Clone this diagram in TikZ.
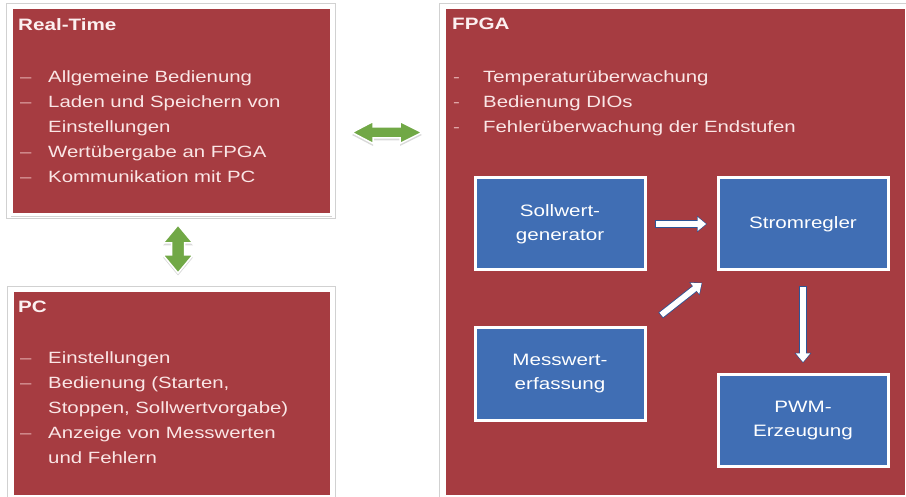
\documentclass[tikz,border=0pt]{standalone}
\usepackage{fontspec}
\setmainfont{Liberation Sans}[FakeStretch=1.25]
\usetikzlibrary{arrows.meta,shadows,calc}
\definecolor{boxred}{RGB}{166,60,65}
\definecolor{boxblue}{RGB}{64,110,180}
\definecolor{arrowgreen}{RGB}{113,168,70}
\definecolor{txtpink}{RGB}{250,230,230}
\definecolor{dashpink}{RGB}{226,170,170}
\definecolor{outlineblue}{RGB}{45,85,150}
\newcommand{\litem}[2][28pt]{\makebox[#1][l]{\color{dashpink}#2}}
\begin{document}
\begin{tikzpicture}[x=1pt,y=-1pt,
  redbox/.style={fill=boxred, draw=white, line width=3.5pt, inner sep=0pt, anchor=north west,
    drop shadow={opacity=0.35, shadow xshift=0pt, shadow yshift=-2.5pt}},
  frameline/.style={draw=black!18, line width=0.8pt},
  bluebox/.style={fill=boxblue, draw=white, line width=3pt, inner sep=0pt, anchor=north west,
    minimum width=170pt, align=center, text=white, font=\fontsize{16.5}{24}\selectfont,
    drop shadow={opacity=0.3, shadow xshift=1pt, shadow yshift=-1.5pt}},
  titletext/.style={anchor=base west, inner sep=0pt, text=txtpink!60!white, font=\bfseries\fontsize{16.5}{20}\selectfont},
  listtext/.style={anchor=north west, inner sep=0pt, align=left, text=txtpink, font=\fontsize{16.3}{25}\selectfont},
  greenarrow/.style={fill=arrowgreen, draw=white, line width=1.5pt, line join=miter,
    drop shadow={opacity=0.3, shadow xshift=0pt, shadow yshift=-2.5pt}},
  connout/.style={draw=outlineblue, line width=7.5pt, -{Triangle[length=10pt,width=16pt]}},
  connin/.style={draw=white, line width=5.8pt, -{Triangle[length=8.6pt,width=13.6pt]}}
]
\useasboundingbox (0,0) rectangle (906,497);

% main boxes
\node[redbox, minimum width=321pt, minimum height=207pt] (rt) at (9,6) {};
\node[redbox, minimum width=320pt, minimum height=206pt] (pc) at (10,289) {};
\node[redbox, minimum width=463pt, minimum height=489pt] (fpga) at (442,6) {};
\foreach \b in {rt,pc,fpga}
  \draw[frameline] ($(\b.north west)+(-2.2,-2.2)$) rectangle ($(\b.south east)+(2.2,2.2)$);

% titles
\node[titletext] (rtt) at (18,31) {Real-Time};
\node[titletext] (pct) at (18,313) {PC};
\node[titletext] (fpt) at (452,30) {FPGA};

% lists
\node[listtext] (rtl) at (20,70.5) {%
  \litem{–}Allgemeine Bedienung\\
  \litem{–}Laden und Speichern von\\
  \litem{}Einstellungen\\
  \litem{–}Wertübergabe an FPGA\\
  \litem{–}Kommunikation mit PC};
\node[listtext] (pcl) at (20,351.5) {%
  \litem{–}Einstellungen\\
  \litem{–}Bedienung (Starten,\\
  \litem{}Stoppen, Sollwertvorgabe)\\
  \litem{–}Anzeige von Messwerten\\
  \litem{}und Fehlern};
\node[listtext] (fpl) at (453,70.5) {%
  \litem[30pt]{-}Temperaturüberwachung\\
  \litem[30pt]{-}Bedienung DIOs\\
  \litem[30pt]{-}Fehlerüberwachung der Endstufen};

% blue boxes
\node[bluebox, minimum height=92pt] (sg) at (473.5,176.5) {Sollwert-\\generator};
\node[bluebox, minimum height=92pt] (sr) at (716.5,176.5) {Stromregler};
\node[bluebox, minimum height=92pt] (mw) at (473.5,326.5) {Messwert-\\erfassung};
\node[bluebox, minimum height=91pt] (pwm) at (716.5,373.5) {PWM-\\Erzeugung};

% connectors inside FPGA
\draw[connout, shorten <=8.5pt, shorten >=9.5pt] (sg.east) -- (sr.west);
\draw[connin, shorten <=9.3pt, shorten >=10.4pt] (sg.east) -- (sr.west);
\draw[connout, shorten <=14.5pt, shorten >=10.5pt] (sr.south) -- (pwm.north);
\draw[connin, shorten <=15.3pt, shorten >=11.4pt] (sr.south) -- (pwm.north);
\draw[connout, shorten <=18pt, shorten >=18pt] (mw.north east) -- (sr.south west);
\draw[connin, shorten <=18.8pt, shorten >=18.9pt] (mw.north east) -- (sr.south west);

% green double arrows
\coordinate (gh) at (387,132.5);
\coordinate (gv) at (178,249);
\path[greenarrow] ($(gh)+(-35,0)$) -- ($(gh)+(-14,-11)$) -- ($(gh)+(-14,-5.5)$) -- ($(gh)+(13,-5.5)$)
  -- ($(gh)+(13,-11)$) -- ($(gh)+(35,0)$) -- ($(gh)+(13,11)$) -- ($(gh)+(13,5.5)$)
  -- ($(gh)+(-14,5.5)$) -- ($(gh)+(-14,11)$) -- cycle;
\path[greenarrow] ($(gv)+(0,-24)$) -- ($(gv)+(15,-6)$) -- ($(gv)+(6.5,-6)$) -- ($(gv)+(6.5,6)$)
  -- ($(gv)+(15,6)$) -- ($(gv)+(0,24)$) -- ($(gv)+(-15,6)$) -- ($(gv)+(-6.5,6)$)
  -- ($(gv)+(-6.5,-6)$) -- ($(gv)+(-15,-6)$) -- cycle;
\end{tikzpicture}
\end{document}
